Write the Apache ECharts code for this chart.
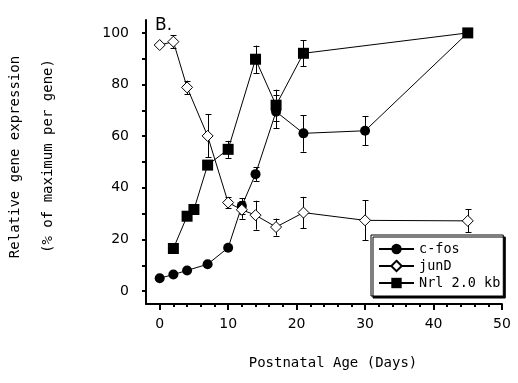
<!DOCTYPE html>
<html><head><meta charset="utf-8">
<script src="https://cdn.jsdelivr.net/npm/echarts@6/dist/echarts.min.js"></script>
<style>html,body{margin:0;padding:0;background:#fff}#c{width:518px;height:383px}</style>
</head><body><div id="c"></div>
<script>
const cfosDays=[0,2,4,7,10,12,14,17,21,30,45];
const cfosVals=[5,6.4,8,10.4,16.8,33,45.3,69.5,61.1,62.1,100];
const cfosErr=[0,0,0,0,0,3,2.6,6.5,7.1,5.7,0];
const junDDays=[0,2,4,7,10,12,14,17,21,30,45];
const junDVals=[95.3,96.6,78.9,60.1,34.3,31.5,29.4,24.8,30.4,27.4,27.2];
const junDErr=[0,2.6,2.6,8.3,2.2,3.5,5.6,3.3,6.1,7.8,4.5];
const nrlDays=[2,4,5,7,10,14,17,21,45];
const nrlVals=[16.5,29,31.6,48.8,54.9,89.8,72,92.1,100];
const nrlErr=[0,0,0,0,3.3,5.3,6,5,0];
const xMajorTicks=[0,10,20,30,40,50];
const xMinorTicks=[2,4,6,8,12,14,16,18,22,24,26,28,32,34,36,38,42,44,46,48];
const yLabelTicks=[0,20,40,60,80,100];
const yTicks=[0,10,20,30,40,50,60,70,80,90,100];
const seriesNames=['c-fos','junD','Nrl 2.0 kb'];

const MONO='DejaVu Sans Mono';
function pairs(d,v){return d.map((x,i)=>[x,v[i]]);}
function errSeries(days,vals,errs){
  const data=[];
  days.forEach((d,i)=>{ if(errs[i]>0) data.push([d,vals[i]-errs[i],vals[i]+errs[i]]); });
  return {type:'custom',data,z:1,silent:true,encode:{x:0,y:[1,2]},
    renderItem(params,api){
      const x=api.value(0);
      const lo=api.coord([x,api.value(1)]), hi=api.coord([x,api.value(2)]);
      const w=3, st={stroke:'#000',lineWidth:1};
      const cx=Math.round(lo[0])+0.5;
      return {type:'group',children:[
        {type:'line',shape:{x1:cx,y1:lo[1],x2:cx,y2:hi[1]},style:st},
        {type:'line',shape:{x1:cx-w,y1:Math.round(lo[1])+0.5,x2:cx+w,y2:Math.round(lo[1])+0.5},style:st},
        {type:'line',shape:{x1:cx-w,y1:Math.round(hi[1])+0.5,x2:cx+w,y2:Math.round(hi[1])+0.5},style:st}
      ]};
    }};
}
const chart=echarts.init(document.getElementById('c'),null,{renderer:'canvas'});
const axisBase={type:'value',splitLine:{show:false}};
chart.setOption({
  animation:false,
  backgroundColor:'#fff',
  grid:{left:146,right:16,top:20,bottom:79},
  xAxis:[
    Object.assign({},axisBase,{min:-2,max:50,position:'bottom',
      axisLine:{show:true,onZero:false,lineStyle:{color:'#000',width:2}},
      axisTick:{show:true,length:6,customValues:xMajorTicks,lineStyle:{color:'#000',width:2}},
      axisLabel:{customValues:xMajorTicks,margin:13,fontSize:14,color:'#000',fontFamily:'DejaVu Sans'}}),
    Object.assign({},axisBase,{min:-2,max:50,position:'bottom',
      axisLine:{show:false,onZero:false},
      axisTick:{show:true,length:3,customValues:xMinorTicks,lineStyle:{color:'#000',width:2}},
      axisLabel:{show:false}})
  ],
  yAxis:Object.assign({},axisBase,{min:-5,max:105,
    axisLine:{show:true,onZero:false,lineStyle:{color:'#000',width:2}},
    axisTick:{show:true,length:4,customValues:yTicks,lineStyle:{color:'#000',width:2}},
    axisLabel:{customValues:yLabelTicks,margin:17,fontSize:14,color:'#000',fontFamily:'DejaVu Sans'}}),
  legend:{orient:'vertical',left:371,top:235,itemWidth:35,itemHeight:13,itemGap:3,
    padding:[7,3,6,7],borderColor:'#000',borderWidth:1,backgroundColor:'#fff',
    shadowColor:'#000',shadowOffsetX:2,shadowOffsetY:2,shadowBlur:0,
    selectedMode:false,
    textStyle:{fontFamily:MONO,fontSize:13.5,color:'#000'},data:seriesNames},
  graphic:[
    {type:'text',x:15,y:157,rotation:Math.PI/2,style:{text:'Relative gene expression',fontFamily:MONO,fontSize:14,fill:'#000',align:'center',verticalAlign:'middle'}},
    {type:'text',x:48,y:156,rotation:Math.PI/2,style:{text:'(% of maximum per gene)',fontFamily:MONO,fontSize:14,fill:'#000',align:'center',verticalAlign:'middle'}},
    {type:'text',x:333,y:363,style:{text:'Postnatal Age (Days)',fontFamily:MONO,fontSize:14,fill:'#000',align:'center',verticalAlign:'middle'}},
    {type:'text',x:155,y:17,style:{text:'B.',fontFamily:'DejaVu Sans',fontSize:17,fill:'#000',align:'left',verticalAlign:'top'}}
  ],
  series:[
    errSeries(cfosDays,cfosVals,cfosErr),
    errSeries(junDDays,junDVals,junDErr),
    errSeries(nrlDays,nrlVals,nrlErr),
    {name:seriesNames[0],type:'line',data:pairs(cfosDays,cfosVals),symbol:'circle',symbolSize:10,showAllSymbol:true,
     lineStyle:{color:'#000',width:1},itemStyle:{color:'#000'},emphasis:{disabled:true},z:3},
    {name:seriesNames[1],type:'line',data:pairs(junDDays,junDVals),symbol:'diamond',symbolSize:11,showAllSymbol:true,
     lineStyle:{color:'#000',width:1},itemStyle:{color:'#fff',borderColor:'#000',borderWidth:1},emphasis:{disabled:true},z:4},
    {name:seriesNames[2],type:'line',data:pairs(nrlDays,nrlVals),symbol:'rect',symbolSize:11,showAllSymbol:true,
     lineStyle:{color:'#000',width:1},itemStyle:{color:'#000'},emphasis:{disabled:true},z:3}
  ]
});
</script></body></html>
